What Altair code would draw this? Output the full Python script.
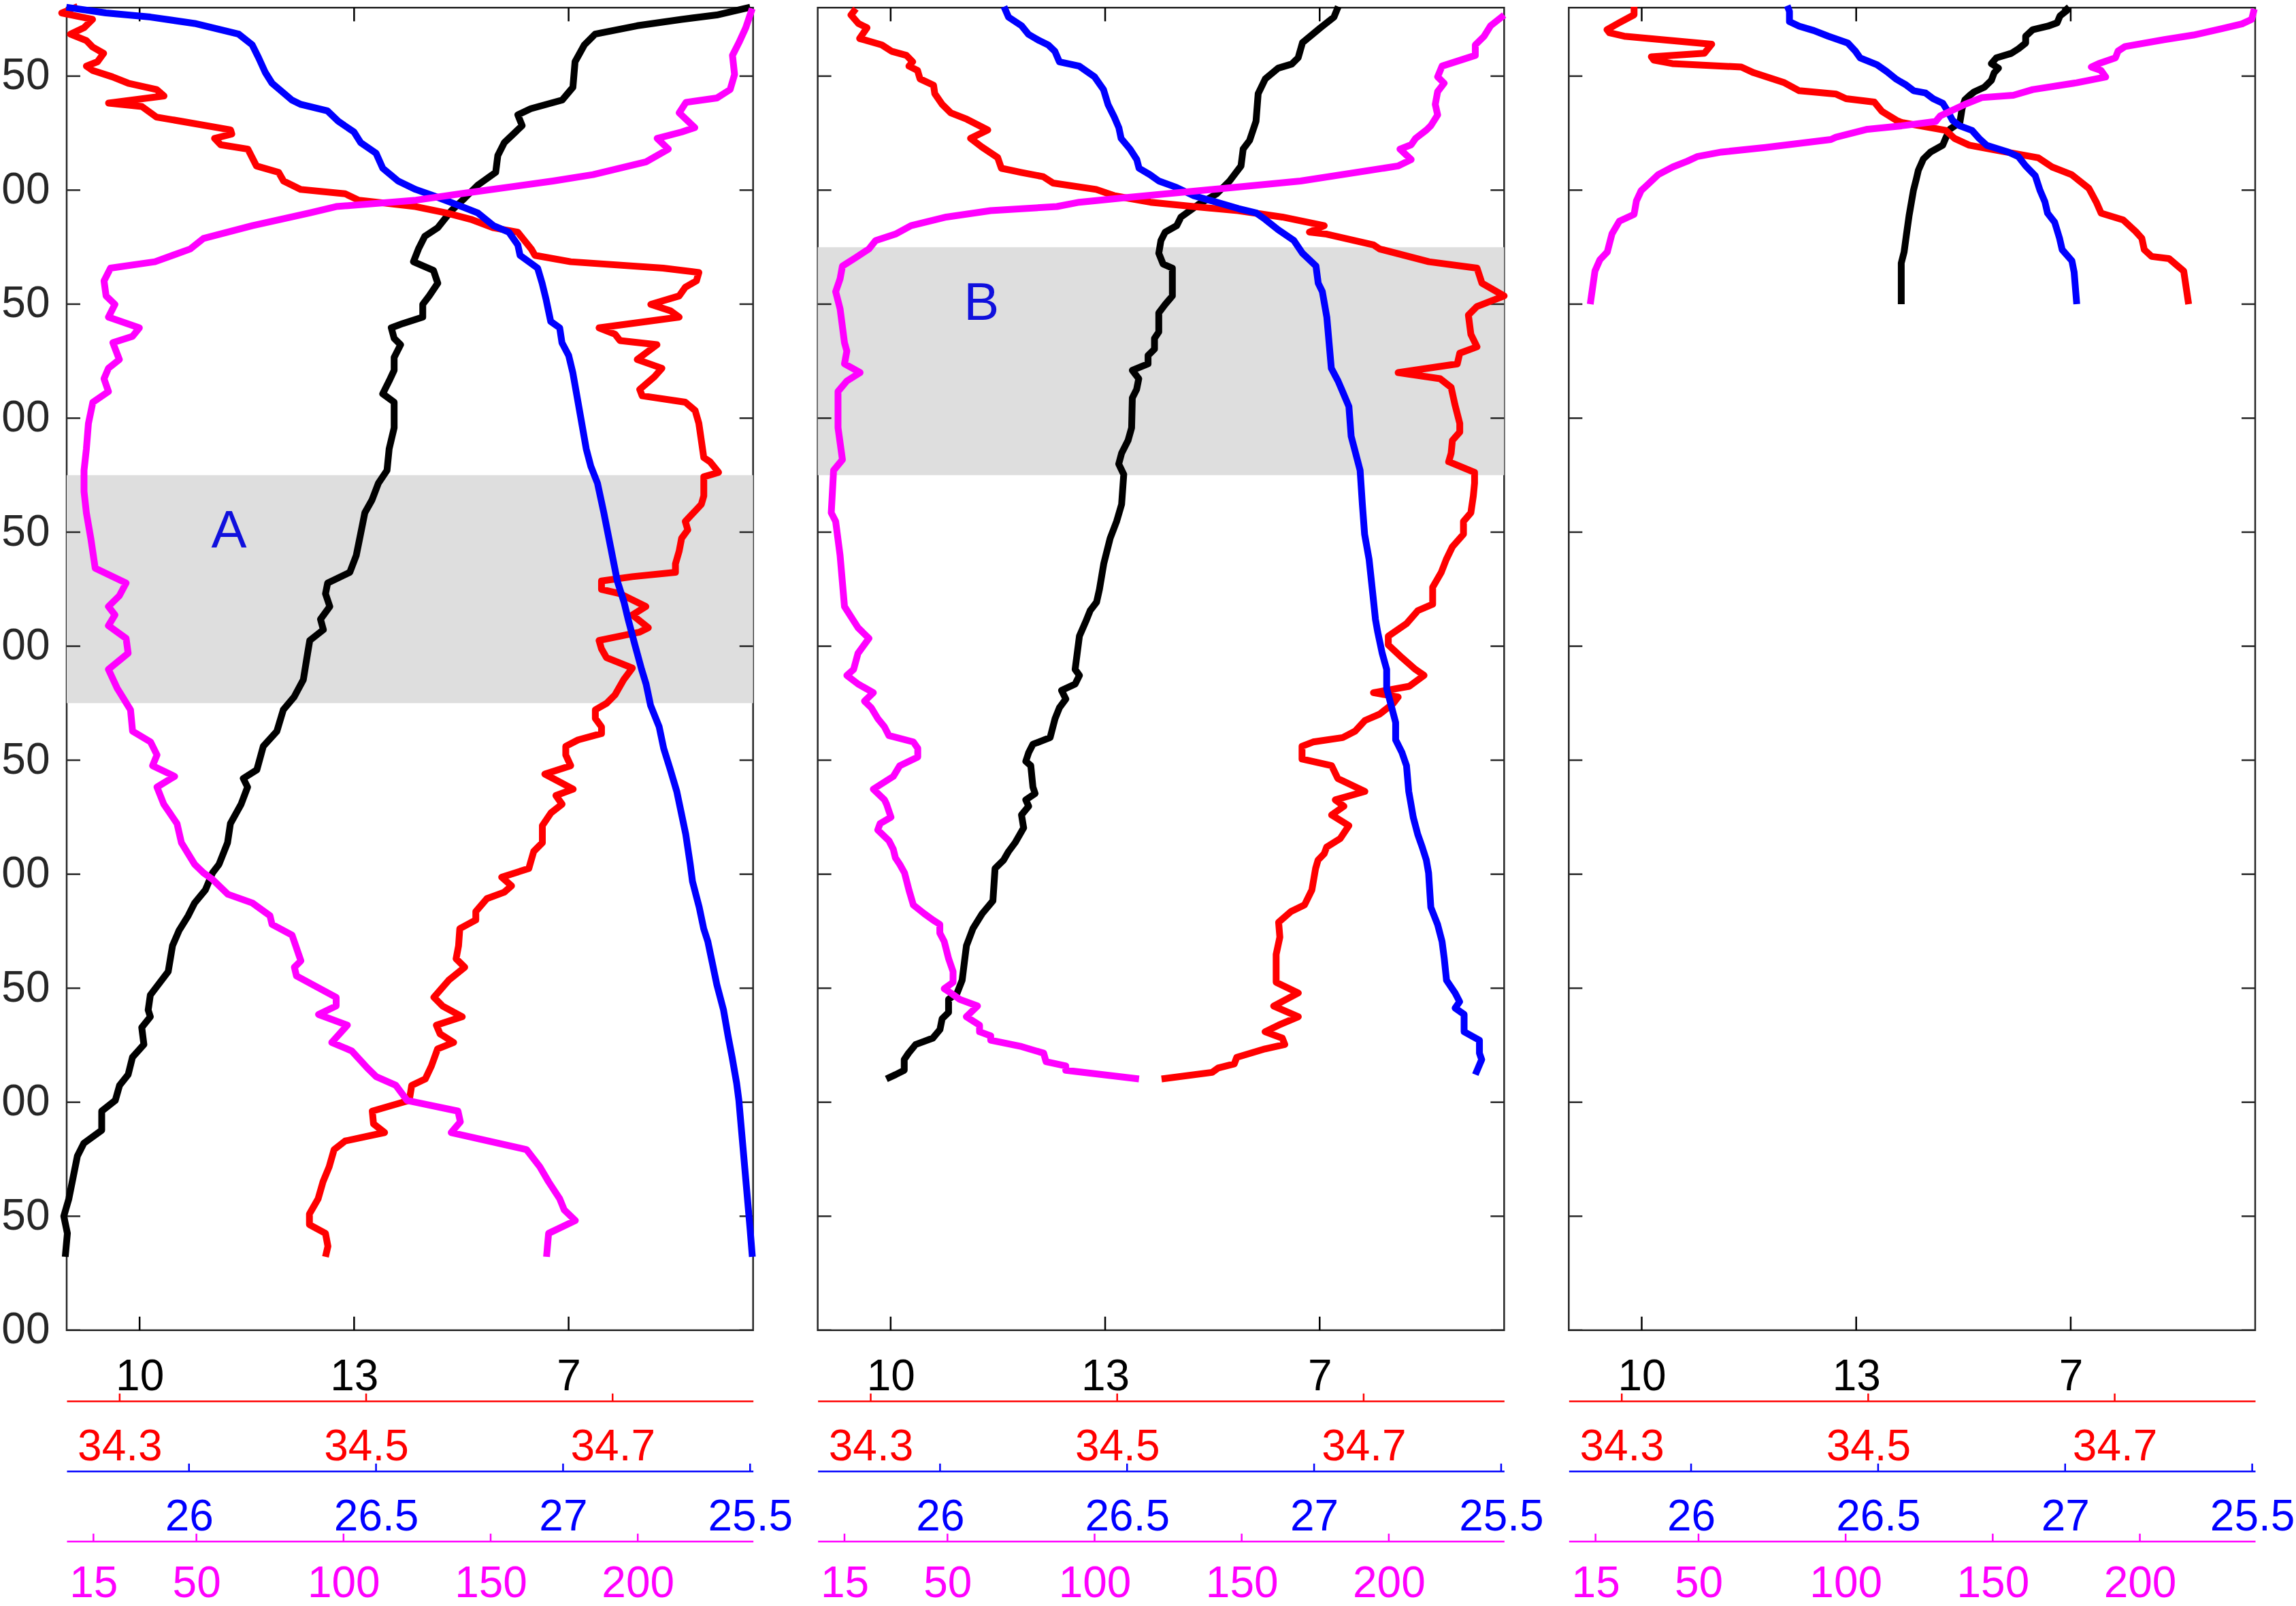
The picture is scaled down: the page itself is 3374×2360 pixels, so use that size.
import altair as alt
import pandas as pd

FONT = "Liberation Sans"
W, H = 1009, 1944

# ---------------- axes / scales ----------------
DEPTH_DOMAIN = [20, 600]
DEPTH_TICKS = [50, 100, 150, 200, 250, 300, 350, 400, 450, 500, 550, 600]

T_DOMAIN = [8.98, 18.58]
T_TICKS = [10, 13, 16]
T_LABELS = ["10", "13", "7"]

S_DOMAIN = [34.257, 34.814]
S_TICKS = [34.3, 34.5, 34.7]
S_LABELS = ["34.3", "34.5", "34.7"]

SIG_DOMAIN = [25.673, 27.508]
SIG_TICKS = [26, 26.5, 27, 27.5]
SIG_LABELS = ["26", "26.5", "27", "25.5"]

O_DOMAIN = [5.9, 239.2]
O_TICKS = [15, 50, 100, 150, 200]
O_LABELS = ["15", "50", "100", "150", "200"]

# shaded layers: (top depth, bottom depth, label, label temperature-axis position, label depth)
BANDS = [
    [(225, 325, "A", 11.25, 250)],
    [(125, 225, "B", 11.27, 150)],
    [],
]

# ---------------- profiles: (depth, value) ----------------
P1_T = [(19.8, 18.54), (23.2, 18.07), (25.1, 17.58), (27.9, 16.96), (31.6, 16.37), (36.3, 16.22),
        (43.7, 16.09), (54.9, 16.06), (60.5, 15.91), (64.3, 15.47), (67.0, 15.29), (71.7, 15.35),
        (79.2, 15.10), (84.8, 15.01), (92.2, 14.98), (97.8, 14.73), (103.4, 14.55), (109.0, 14.36),
        (116.5, 14.17), (120.2, 13.99), (125.8, 13.90), (131.4, 13.83), (135.2, 14.11), (140.8, 14.17),
        (146.4, 14.05), (150.1, 13.96), (155.7, 13.96), (158.5, 13.68), (160.4, 13.52), (165.0, 13.56),
        (167.8, 13.65), (173.4, 13.56), (179.0, 13.56), (183.7, 13.49), (189.3, 13.40), (193.0, 13.56),
        (204.2, 13.56), (213.5, 13.49), (222.9, 13.46), (228.5, 13.34), (235.9, 13.25), (241.5, 13.15),
        (250.9, 13.09), (260.2, 13.03), (267.6, 12.94), (272.3, 12.63), (277.0, 12.60), (282.6, 12.66),
        (288.2, 12.53), (292.8, 12.57), (297.5, 12.38), (303.1, 12.35), (314.7, 12.29), (322.3, 12.16),
        (327.9, 12.01), (337.3, 11.92), (343.9, 11.73), (354.2, 11.64), (358.0, 11.45), (361.8, 11.51),
        (369.3, 11.42), (377.8, 11.27), (386.2, 11.23), (395.7, 11.11), (399.4, 11.02), (406.9, 10.92),
        (412.6, 10.77), (418.2, 10.68), (424.8, 10.55), (431.4, 10.46), (442.7, 10.40), (453.0, 10.15),
        (459.6, 10.12), (462.5, 10.15), (467.2, 10.03), (474.7, 10.06), (480.3, 9.90), (487.9, 9.84),
        (492.6, 9.72), (499.2, 9.66), (503.9, 9.47), (512.3, 9.47), (518.0, 9.22), (523.6, 9.13),
        (533.0, 9.07), (542.4, 9.01), (550.0, 8.94), (557.5, 8.99), (567.8, 8.96)]

P1_S = [(19.5, 34.266), (22.3, 34.253), (25.1, 34.278), (28.8, 34.271), (31.6, 34.260), (34.4, 34.273),
        (37.2, 34.278), (40.0, 34.287), (43.7, 34.282), (45.6, 34.273), (47.5, 34.278), (50.3, 34.294),
        (53.1, 34.307), (55.9, 34.330), (58.7, 34.336), (61.8, 34.291), (63.3, 34.318), (68.0, 34.330),
        (69.8, 34.350), (73.6, 34.390), (75.4, 34.391), (77.3, 34.377), (80.1, 34.382), (82.0, 34.404),
        (89.4, 34.411), (92.2, 34.429), (96.0, 34.433), (99.7, 34.447), (101.6, 34.483), (104.4, 34.494),
        (107.2, 34.540), (110.0, 34.565), (112.8, 34.585), (116.5, 34.603), (118.4, 34.623), (125.8, 34.634),
        (128.6, 34.637), (131.4, 34.666), (134.2, 34.741), (136.1, 34.770), (139.8, 34.768), (142.6, 34.759),
        (146.4, 34.754), (150.1, 34.731), (152.9, 34.747), (155.7, 34.754), (160.4, 34.689), (163.2, 34.702),
        (166.0, 34.706), (167.8, 34.736), (174.3, 34.720), (178.1, 34.740), (181.8, 34.734), (187.4, 34.722),
        (190.2, 34.724), (193.0, 34.759), (196.7, 34.767), (202.3, 34.770), (209.8, 34.772), (217.3, 34.774),
        (219.1, 34.779), (223.8, 34.786), (225.7, 34.774), (234.1, 34.774), (237.8, 34.772), (245.3, 34.759),
        (249.0, 34.761), (252.7, 34.756), (258.3, 34.754), (263.9, 34.751), (267.6, 34.751), (269.5, 34.716),
        (271.4, 34.691), (275.1, 34.691), (277.0, 34.706), (282.6, 34.727), (286.3, 34.716), (291.9, 34.729),
        (293.8, 34.722), (297.5, 34.689), (301.2, 34.691), (305.0, 34.695), (309.6, 34.716), (314.7, 34.709),
        (321.3, 34.702), (325.1, 34.695), (327.9, 34.686), (331.7, 34.686), (335.4, 34.691), (338.3, 34.691),
        (341.1, 34.672), (343.9, 34.662), (347.7, 34.662), (352.4, 34.666), (356.1, 34.645), (362.7, 34.668),
        (365.5, 34.654), (369.3, 34.659), (373.1, 34.650), (378.7, 34.643), (386.2, 34.643), (390.0, 34.636),
        (397.5, 34.632), (401.3, 34.610), (405.1, 34.618), (407.9, 34.612), (410.7, 34.598), (416.4, 34.589),
        (420.1, 34.589), (423.9, 34.576), (431.4, 34.575), (437.1, 34.573), (440.8, 34.580), (446.5, 34.567),
        (454.0, 34.555), (457.8, 34.562), (462.5, 34.578), (466.2, 34.557), (470.0, 34.560), (473.8, 34.571),
        (476.6, 34.558), (484.1, 34.553), (489.8, 34.548), (492.6, 34.537), (499.2, 34.535), (503.9, 34.505),
        (509.5, 34.506), (513.3, 34.515), (517.0, 34.483), (520.8, 34.474), (528.3, 34.470), (534.9, 34.465),
        (542.4, 34.461), (549.0, 34.454), (553.7, 34.454), (557.5, 34.467), (563.2, 34.469), (567.8, 34.467)]

P1_SIG = [(19.8, 25.672), (22.3, 25.778), (24.1, 25.897), (26.9, 26.015), (31.6, 26.133), (36.3, 26.169),
          (41.9, 26.186), (48.4, 26.204), (53.1, 26.222), (60.5, 26.275), (62.4, 26.299), (65.2, 26.370),
          (69.8, 26.399), (74.5, 26.441), (79.2, 26.459), (83.8, 26.500), (90.4, 26.518), (96.0, 26.559),
          (99.7, 26.606), (102.5, 26.654), (106.2, 26.713), (110.0, 26.772), (115.6, 26.814), (118.4, 26.855),
          (124.0, 26.879), (128.6, 26.885), (134.2, 26.932), (140.8, 26.944), (148.2, 26.955), (157.6, 26.967),
          (160.4, 26.991), (166.9, 26.997), (172.5, 27.015), (180.0, 27.026), (191.1, 27.038), (202.3, 27.050),
          (213.5, 27.062), (221.0, 27.074), (228.5, 27.092), (241.5, 27.109), (256.4, 27.127), (271.4, 27.145),
          (280.7, 27.163), (288.2, 27.174), (299.4, 27.192), (310.2, 27.210), (316.6, 27.222), (326.0, 27.234),
          (335.4, 27.257), (344.8, 27.269), (354.3, 27.287), (363.7, 27.304), (373.1, 27.316), (382.5, 27.328),
          (395.7, 27.340), (403.2, 27.346), (414.5, 27.364), (423.9, 27.376), (429.5, 27.387), (438.9, 27.399),
          (448.4, 27.411), (459.6, 27.429), (470.9, 27.441), (480.3, 27.452), (491.6, 27.464), (499.2, 27.470),
          (510.5, 27.476), (521.7, 27.482), (533.0, 27.488), (544.3, 27.494), (555.6, 27.500), (567.8, 27.506)]

P1_O = [(20.4, 238.9), (28.8, 236.7), (35.3, 234.4), (40.9, 232.2), (49.3, 232.9), (55.9, 231.4),
        (59.6, 226.9), (61.5, 216.4), (66.1, 214.1), (72.6, 219.4), (74.5, 214.9), (77.3, 206.6),
        (82.0, 210.4), (87.6, 202.8), (93.2, 184.8), (96.0, 171.2), (101.6, 139.7), (104.4, 124.6),
        (107.2, 97.5), (110.0, 88.5), (115.6, 69.0), (121.2, 52.4), (125.8, 47.9), (131.4, 35.9),
        (134.2, 20.8), (139.8, 18.6), (146.4, 19.3), (150.1, 22.3), (155.7, 20.1), (160.4, 30.6),
        (164.1, 28.3), (166.9, 21.6), (174.3, 23.8), (178.1, 20.1), (182.7, 18.6), (188.3, 20.1),
        (193.0, 14.8), (202.3, 13.3), (213.5, 12.6), (222.9, 11.8), (232.2, 11.8), (241.5, 12.6),
        (252.7, 14.1), (265.8, 15.6), (272.3, 26.1), (277.9, 23.8), (282.6, 20.1), (286.3, 22.3),
        (291.0, 20.1), (296.6, 26.1), (303.1, 26.8), (310.2, 20.1), (318.5, 23.1), (327.9, 27.6),
        (337.3, 28.3), (342.0, 34.4), (347.7, 36.6), (352.4, 35.1), (357.1, 42.6), (361.8, 36.6),
        (369.3, 38.9), (377.8, 43.4), (386.2, 44.9), (395.7, 49.4), (399.4, 52.4), (402.2, 55.4),
        (408.8, 60.7), (412.6, 69.0), (418.2, 75.0), (422.0, 75.7), (426.7, 82.5), (438.0, 85.5),
        (440.8, 83.3), (444.6, 84.0), (454.0, 97.5), (457.8, 97.5), (461.5, 91.5), (466.2, 101.3),
        (473.8, 96.0), (477.5, 102.8), (485.0, 108.1), (488.8, 111.1), (492.6, 117.8), (499.2, 121.6),
        (503.9, 138.9), (508.6, 139.7), (513.3, 136.6), (520.8, 162.2), (528.3, 166.7), (534.9, 169.7),
        (542.4, 173.5), (547.2, 175.0), (551.9, 178.8), (557.5, 169.7), (567.8, 169.0)]

P2_T = [(19.5, 16.26), (24.1, 16.20), (28.8, 16.01), (35.3, 15.76), (41.9, 15.70), (44.7, 15.61),
        (46.5, 15.42), (51.2, 15.24), (57.7, 15.14), (69.8, 15.11), (78.2, 15.02), (82.0, 14.93),
        (89.4, 14.90), (96.0, 14.74), (101.6, 14.56), (106.2, 14.31), (111.8, 14.06), (115.6, 14.00),
        (118.4, 13.84), (122.1, 13.78), (127.7, 13.75), (132.4, 13.81), (134.2, 13.94), (146.4, 13.94),
        (150.1, 13.84), (153.8, 13.75), (162.2, 13.75), (165.0, 13.69), (169.7, 13.69), (172.5, 13.60),
        (176.2, 13.60), (179.0, 13.38), (182.7, 13.47), (187.4, 13.44), (191.1, 13.38), (204.2, 13.37),
        (209.8, 13.32), (215.4, 13.23), (220.1, 13.19), (224.7, 13.26), (237.8, 13.23), (245.3, 13.16),
        (252.7, 13.07), (263.9, 12.98), (275.1, 12.92), (280.7, 12.88), (284.4, 12.79), (289.1, 12.73),
        (295.6, 12.64), (310.2, 12.58), (312.8, 12.64), (316.6, 12.58), (319.4, 12.39), (323.2, 12.45),
        (327.0, 12.36), (331.7, 12.30), (340.1, 12.23), (343.0, 11.99), (346.7, 11.93), (350.5, 11.89),
        (352.4, 11.96), (361.8, 11.99), (364.6, 12.02), (367.4, 11.89), (370.2, 11.93), (374.0, 11.83),
        (379.7, 11.86), (386.2, 11.74), (390.0, 11.65), (393.8, 11.58), (397.5, 11.46), (411.7, 11.43),
        (417.3, 11.28), (423.9, 11.15), (431.4, 11.06), (438.9, 11.03), (446.5, 11.00), (452.1, 10.93),
        (454.9, 10.81), (460.6, 10.81), (463.4, 10.72), (468.1, 10.69), (471.9, 10.59), (474.7, 10.35),
        (478.5, 10.25), (481.3, 10.19), (486.0, 10.19), (487.9, 10.07), (489.8, 9.94)]

P2_S = [(20.4, 34.288), (23.2, 34.284), (26.9, 34.290), (28.8, 34.297), (33.5, 34.291), (36.3, 34.309),
        (39.1, 34.317), (40.9, 34.329), (43.7, 34.334), (45.6, 34.331), (47.5, 34.338), (51.2, 34.340),
        (54.0, 34.351), (57.7, 34.352), (62.4, 34.358), (66.1, 34.365), (68.9, 34.378), (73.6, 34.395),
        (77.3, 34.381), (81.0, 34.390), (85.7, 34.403), (90.4, 34.406), (92.2, 34.422), (94.1, 34.440),
        (96.9, 34.448), (99.7, 34.483), (102.5, 34.498), (105.3, 34.527), (107.2, 34.562), (109.0, 34.598),
        (111.8, 34.634), (115.6, 34.668), (118.4, 34.656), (119.3, 34.670), (124.0, 34.708), (125.8, 34.713),
        (131.4, 34.753), (134.2, 34.792), (140.8, 34.796), (146.4, 34.814), (151.0, 34.792), (154.8, 34.785),
        (163.2, 34.787), (168.7, 34.792), (171.5, 34.778), (176.2, 34.776), (180.0, 34.728), (182.7, 34.762),
        (186.5, 34.771), (193.9, 34.774), (202.3, 34.778), (206.1, 34.778), (209.8, 34.772), (215.4, 34.771),
        (219.1, 34.769), (223.8, 34.790), (228.5, 34.790), (234.1, 34.789), (241.5, 34.787), (245.3, 34.781),
        (250.9, 34.781), (256.4, 34.772), (262.0, 34.767), (267.6, 34.763), (274.2, 34.756), (281.6, 34.756),
        (284.4, 34.744), (290.0, 34.735), (295.6, 34.720), (299.4, 34.720), (305.0, 34.731), (310.2, 34.742),
        (312.8, 34.749), (317.6, 34.737), (320.4, 34.708), (322.3, 34.728), (325.1, 34.724), (329.8, 34.713),
        (332.6, 34.701), (337.3, 34.693), (340.1, 34.683), (342.0, 34.659), (343.9, 34.650), (349.5, 34.650),
        (352.4, 34.674), (358.0, 34.679), (363.7, 34.701), (367.4, 34.677), (370.2, 34.684), (374.0, 34.674),
        (378.7, 34.688), (384.4, 34.681), (388.1, 34.670), (391.0, 34.668), (393.8, 34.663), (397.5, 34.661),
        (406.9, 34.658), (413.5, 34.652), (416.4, 34.641), (421.1, 34.631), (427.6, 34.632), (435.2, 34.629),
        (447.4, 34.629), (452.1, 34.647), (457.8, 34.627), (462.5, 34.647), (466.2, 34.631), (469.1, 34.620),
        (471.9, 34.634), (474.7, 34.636), (476.6, 34.620), (480.3, 34.597), (483.2, 34.595), (485.0, 34.582),
        (486.9, 34.577), (489.8, 34.536)]

P2_SIG = [(19.5, 26.171), (24.1, 26.183), (27.9, 26.218), (31.6, 26.236), (34.4, 26.265), (36.3, 26.289),
          (39.1, 26.307), (43.7, 26.319), (45.6, 26.372), (50.3, 26.413), (55.9, 26.437), (62.4, 26.449),
          (68.0, 26.466), (72.6, 26.478), (77.3, 26.484), (82.0, 26.508), (86.6, 26.526), (90.4, 26.532),
          (93.2, 26.561), (96.0, 26.585), (98.8, 26.632), (102.5, 26.679), (105.3, 26.739), (108.1, 26.798),
          (110.0, 26.845), (112.8, 26.869), (117.4, 26.904), (122.1, 26.946), (127.7, 26.969), (133.3, 27.005),
          (140.8, 27.011), (144.5, 27.022), (155.7, 27.034), (166.9, 27.040), (178.1, 27.046), (183.7, 27.064),
          (188.3, 27.076), (194.9, 27.093), (207.9, 27.099), (215.4, 27.111), (222.9, 27.123), (237.8, 27.129),
          (250.9, 27.135), (262.0, 27.147), (278.8, 27.158), (288.2, 27.164), (293.8, 27.170), (303.1, 27.182),
          (310.2, 27.194), (318.5, 27.194), (326.0, 27.206), (333.5, 27.218), (341.1, 27.218), (346.7, 27.235),
          (352.4, 27.247), (363.7, 27.253), (369.3, 27.259), (375.0, 27.265), (382.5, 27.277), (388.1, 27.289),
          (393.8, 27.300), (399.4, 27.306), (414.5, 27.312), (422.0, 27.330), (429.5, 27.342), (437.1, 27.348),
          (446.5, 27.354), (452.1, 27.377), (455.9, 27.389), (458.7, 27.377), (461.5, 27.401), (469.1, 27.401),
          (472.8, 27.442), (478.5, 27.442), (481.3, 27.448), (487.9, 27.431)]

P2_O = [(23.2, 239.2), (27.9, 234.6), (32.5, 232.4), (36.3, 229.4), (40.9, 229.4), (45.6, 218.1),
        (50.3, 216.6), (53.1, 218.8), (56.8, 216.6), (62.4, 215.8), (67.0, 216.6), (71.7, 214.3),
        (73.6, 212.8), (77.3, 209.1), (80.1, 207.6), (82.0, 203.8), (86.6, 207.6), (89.4, 203.1),
        (96.0, 170.0), (99.7, 139.9), (103.4, 109.8), (105.3, 94.8), (107.2, 87.2), (109.0, 64.7),
        (111.8, 49.6), (115.6, 37.6), (119.3, 32.3), (122.1, 25.6), (125.8, 23.3), (129.6, 18.8),
        (133.3, 14.3), (138.9, 13.5), (144.5, 12.0), (152.0, 13.5), (166.9, 15.0), (170.6, 15.8),
        (176.2, 15.0), (180.0, 20.3), (183.7, 15.8), (188.3, 12.8), (204.2, 12.8), (218.2, 14.3),
        (222.9, 11.3), (241.5, 10.5), (245.3, 12.0), (260.2, 13.5), (282.6, 15.0), (291.9, 19.6),
        (296.6, 23.3), (303.1, 19.6), (310.2, 18.1), (312.8, 15.8), (316.6, 19.6), (320.4, 24.8),
        (324.1, 21.8), (327.0, 24.1), (331.7, 26.3), (335.4, 28.6), (339.2, 30.1), (342.0, 38.4),
        (344.8, 39.9), (348.6, 39.9), (352.4, 33.8), (357.1, 31.6), (362.7, 24.8), (367.4, 28.6),
        (369.3, 29.3), (375.0, 30.8), (377.8, 27.1), (380.6, 26.3), (385.3, 30.1), (389.1, 31.6),
        (392.8, 32.3), (395.7, 33.8), (399.4, 35.4), (406.9, 36.9), (413.5, 38.4), (417.3, 42.1),
        (420.1, 45.1), (422.0, 47.4), (425.8, 47.4), (429.5, 48.9), (437.1, 50.4), (442.7, 51.9),
        (447.4, 51.9), (450.2, 48.9), (452.1, 51.1), (454.9, 54.2), (457.8, 60.2), (462.5, 56.4),
        (466.2, 60.9), (469.1, 60.9), (470.9, 64.7), (472.8, 64.7), (475.6, 75.2), (478.5, 82.7),
        (482.2, 83.5), (484.1, 90.2), (486.0, 90.2), (489.8, 115.1)]

P3_T = [(19.6, 15.91), (21.1, 15.95), (23.6, 15.85), (26.6, 15.81), (28.1, 15.68), (29.6, 15.47),
        (32.5, 15.37), (35.5, 15.37), (38.0, 15.27), (40.0, 15.17), (42.0, 14.96), (44.5, 14.89),
        (46.5, 14.99), (48.5, 14.93), (51.9, 14.89), (54.9, 14.79), (56.9, 14.65), (58.4, 14.59),
        (60.4, 14.52), (64.4, 14.48), (70.3, 14.45), (73.3, 14.31), (77.3, 14.25), (80.3, 14.21),
        (83.3, 14.04), (86.3, 13.94), (91.2, 13.87), (95.2, 13.84), (100.2, 13.80), (111.1, 13.74),
        (120.1, 13.70), (127.1, 13.67), (132.0, 13.63), (150.0, 13.63)]

P3_S = [(19.6, 34.310), (23.1, 34.310), (26.6, 34.298), (29.6, 34.288), (31.0, 34.290), (32.5, 34.302),
        (36.0, 34.373), (40.0, 34.367), (41.5, 34.324), (43.0, 34.326), (44.5, 34.341), (46.0, 34.397),
        (48.5, 34.407), (52.9, 34.432), (56.4, 34.444), (57.9, 34.474), (59.9, 34.482), (61.4, 34.505),
        (65.4, 34.511), (69.4, 34.523), (70.3, 34.527), (73.8, 34.563), (77.3, 34.570), (80.3, 34.582),
        (82.3, 34.602), (85.8, 34.638), (89.8, 34.649), (93.2, 34.665), (99.2, 34.679), (105.2, 34.685),
        (110.1, 34.689), (113.1, 34.707), (118.1, 34.717), (121.1, 34.722), (126.1, 34.724), (129.1, 34.730),
        (130.0, 34.744), (135.5, 34.756), (150.0, 34.760)]

P3_SIG = [(19.1, 26.257), (21.6, 26.263), (26.1, 26.263), (28.1, 26.289), (30.0, 26.328), (32.5, 26.367),
          (35.5, 26.419), (39.0, 26.439), (42.0, 26.452), (45.0, 26.497), (48.0, 26.523), (51.4, 26.549),
          (53.9, 26.575), (56.4, 26.595), (57.4, 26.627), (59.9, 26.647), (61.9, 26.673), (65.4, 26.686),
          (69.4, 26.699), (71.8, 26.718), (73.8, 26.751), (77.3, 26.770), (80.3, 26.790), (83.3, 26.848),
          (85.3, 26.875), (89.3, 26.894), (93.7, 26.920), (100.2, 26.933), (105.2, 26.946), (110.1, 26.953),
          (114.1, 26.972), (121.1, 26.985), (126.1, 26.992), (131.0, 27.018), (136.0, 27.024), (150.0, 27.031)]

P3_O = [(20.6, 238.9), (25.1, 238.0), (27.1, 234.7), (29.1, 228.1), (32.0, 218.2), (34.0, 208.3),
        (37.0, 195.0), (39.0, 192.6), (42.0, 191.7), (44.5, 186.0), (46.0, 183.5), (47.5, 186.8),
        (50.4, 188.4), (52.9, 178.5), (55.9, 163.6), (58.4, 157.0), (59.4, 146.3), (62.4, 140.5),
        (67.4, 132.2), (69.9, 130.6), (71.8, 119.0), (73.3, 107.4), (76.8, 96.7), (77.8, 95.0),
        (81.3, 72.7), (83.3, 57.8), (85.3, 49.5), (87.3, 46.2), (89.8, 41.3), (93.2, 36.3),
        (97.2, 33.0), (100.2, 30.5), (104.7, 28.9), (110.6, 28.1), (113.6, 23.1), (119.1, 20.6),
        (123.1, 19.8), (127.1, 19.0), (130.5, 16.5), (135.5, 14.8), (150.0, 13.2)]

PANELS = [
    dict(T=P1_T, S=P1_S, SIG=P1_SIG, O=P1_O),
    dict(T=P2_T, S=P2_S, SIG=P2_SIG, O=P2_O),
    dict(T=P3_T, S=P3_S, SIG=P3_SIG, O=P3_O),
]

# ---------------- styling ----------------
FS = 64
AX_GRAY = "#262626"
LW = 10
TICK_IN = 20
TICK_OUT = 11

VARS = [
    # key, domain, ticks, labels, color, axis offset, label padding
    ("T", T_DOMAIN, T_TICKS, T_LABELS, "#000000", 0, 37),
    ("S", S_DOMAIN, S_TICKS, S_LABELS, "#ff0000", 104, 36),
    ("SIG", SIG_DOMAIN, SIG_TICKS, SIG_LABELS, "#0000ff", 207, 36),
    ("O", O_DOMAIN, O_TICKS, O_LABELS, "#ff00ff", 310, 31),
]


def label_expr(ticks, labels):
    expr = "datum.label"
    for t, lab in reversed(list(zip(ticks, labels))):
        expr = f"abs(datum.value - {t}) < 1e-6 ? '{lab}' : ({expr})"
    return expr


def y_enc(field, show_axis):
    scale = alt.Scale(domain=DEPTH_DOMAIN, reverse=True, nice=False, zero=False)
    if show_axis:
        axis = alt.Axis(values=DEPTH_TICKS, labelExpr="substring(datum.label, length(datum.label) - 2)",
                        domain=False, ticks=False, tickSize=0, grid=False, title=None,
                        labelFont=FONT, labelFontSize=FS, labelColor=AX_GRAY, labelPadding=25,
                        labelOverlap=False, labelFlush=False)
    else:
        axis = None
    return alt.Y(f"{field}:Q", scale=scale, axis=axis)


def x_enc(key, domain, ticks, labels, color, offset, pad):
    axis = alt.Axis(values=ticks, labelExpr=label_expr(ticks, labels), orient="bottom", offset=offset,
                    domain=offset > 0, domainColor=color, domainWidth=2.6, ticks=False, tickSize=0,
                    grid=False, title=None, labelFont=FONT, labelFontSize=FS, labelColor=color,
                    labelPadding=pad, labelFlush=False, labelOverlap=False)
    return alt.X("v:Q", scale=alt.Scale(domain=domain, nice=False, zero=False), axis=axis)


def panel(idx):
    show_y = idx == 0
    data = PANELS[idx]
    layers = []

    # shaded bands
    if BANDS[idx]:
        bdf = pd.DataFrame([{"top": b[0], "bottom": b[1]} for b in BANDS[idx]])
        layers.append(alt.Chart(bdf).mark_rect(color="#dedede").encode(
            x=alt.value(0), x2=alt.value(W), y=y_enc("top", show_y), y2="bottom:Q"))

    # inward depth ticks on both sides
    tdf = pd.DataFrame({"d": DEPTH_TICKS})
    layers.append(alt.Chart(tdf).mark_rule(color=AX_GRAY, strokeWidth=2.5).encode(
        y=y_enc("d", show_y), x=alt.value(0), x2=alt.value(TICK_IN)))
    layers.append(alt.Chart(tdf).mark_rule(color=AX_GRAY, strokeWidth=2.5).encode(
        y=y_enc("d", show_y), x=alt.value(W - TICK_IN), x2=alt.value(W)))

    for key, domain, ticks, labels, color, offset, pad in VARS:
        xe = x_enc(key, domain, ticks, labels, color, offset, pad)
        prof = pd.DataFrame({"depth": [p[0] for p in data[key]], "v": [p[1] for p in data[key]],
                             "i": list(range(len(data[key])))})
        sub = []
        kdf = pd.DataFrame({"v": ticks})
        if key == "T":
            sub.append(alt.Chart(kdf).mark_rule(color="#000000", strokeWidth=2.5).encode(
                x=xe, y=alt.value(0), y2=alt.value(TICK_IN)))
            sub.append(alt.Chart(kdf).mark_rule(color="#000000", strokeWidth=2.5).encode(
                x=xe, y=alt.value(H - TICK_IN), y2=alt.value(H)))
        else:
            sub.append(alt.Chart(kdf).mark_rule(color=color, strokeWidth=2.5).encode(
                x=xe, y=alt.value(H + offset - TICK_OUT), y2=alt.value(H + offset)))
        sub.append(alt.Chart(prof).mark_line(color=color, strokeWidth=LW, strokeJoin="round").encode(
            x=xe, y=y_enc("depth", show_y), order="i:Q"))
        if key == "T" and BANDS[idx]:
            ldf = pd.DataFrame([{"v": b[3], "depth": b[4], "txt": b[2]} for b in BANDS[idx]])
            sub.append(alt.Chart(ldf).mark_text(font=FONT, fontSize=78, color="#1010dd",
                                                align="center", baseline="middle").encode(
                x=xe, y=y_enc("depth", show_y), text="txt:N"))
        layers.append(alt.layer(*sub))

    return alt.layer(*layers).resolve_scale(x="independent").properties(width=W, height=H)


chart = alt.hconcat(panel(0), panel(1), panel(2), spacing=95, bounds="flush").configure_view(
    stroke=AX_GRAY, strokeWidth=2.5
).properties(
    padding={"left": 0, "top": 1, "right": 0, "bottom": 0},
    background="white",
)

chart.save("out.html", embed_options={"renderer": "svg", "actions": False})
